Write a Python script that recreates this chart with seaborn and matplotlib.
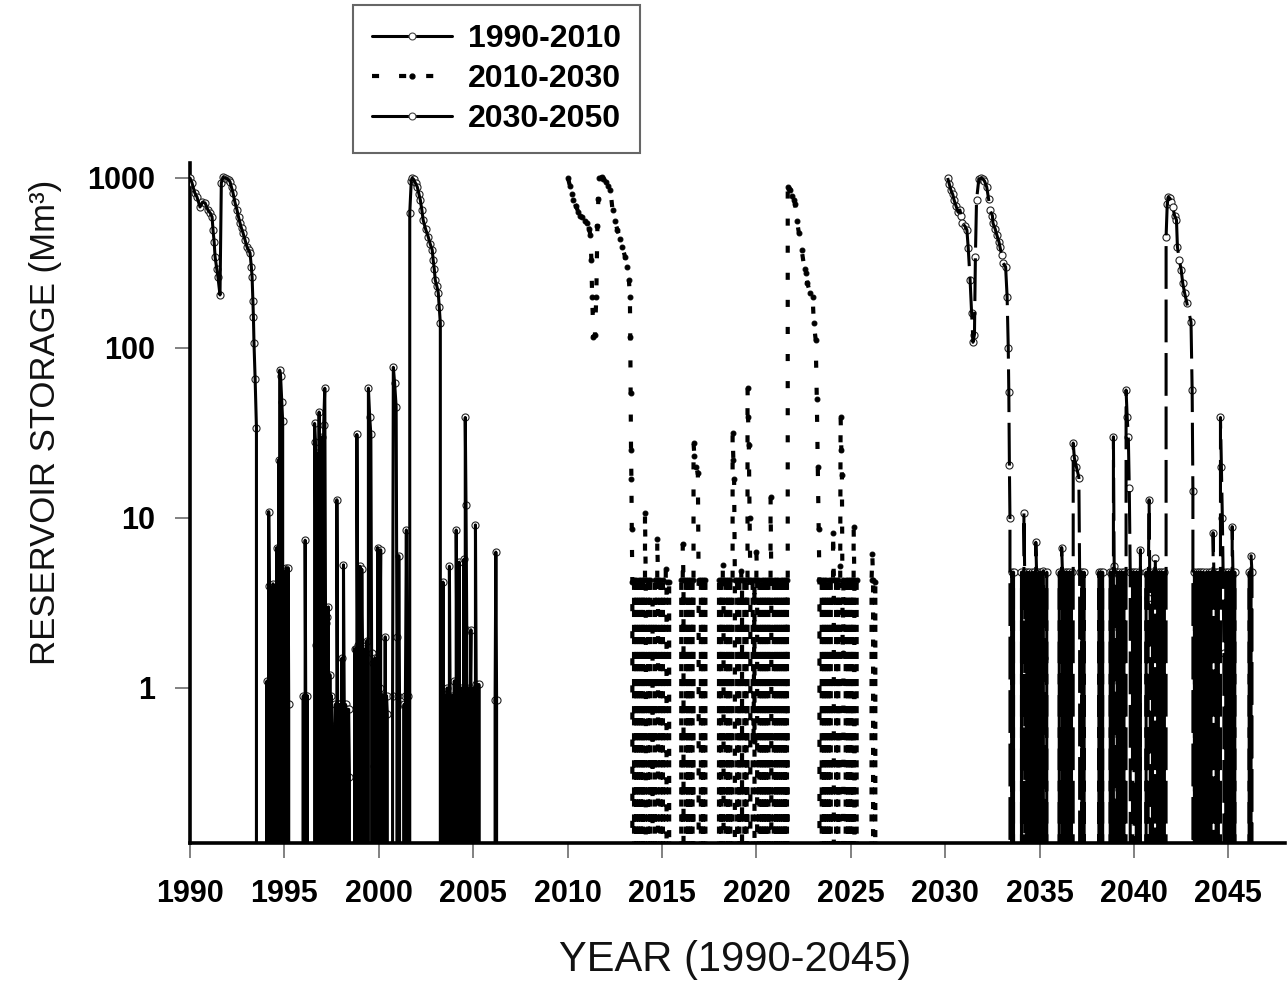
import pandas as pd
import matplotlib
matplotlib.use('Agg')
import matplotlib.pyplot as plt
from matplotlib.lines import Line2D
from matplotlib.ticker import NullLocator
import seaborn as sns

# reservoir storage (Mm3) as (year, storage); 0 = empty reservoir
s1_points = [
    # fill / drawdown 1990-1993
    (1990.00, 1000), (1990.10, 940), (1990.25, 820), (1990.37, 773), (1990.53, 675),
    (1990.66, 720), (1990.80, 713), (1990.95, 648), (1991.08, 620), (1991.17, 590),
    (1991.22, 494), (1991.28, 420), (1991.33, 343), (1991.42, 290), (1991.48, 262),
    (1991.59, 205), (1991.66, 935), (1991.75, 1010), (1991.85, 1000), (1991.95, 990),
    (1992.05, 975), (1992.12, 950), (1992.20, 880), (1992.28, 816), (1992.38, 720),
    (1992.49, 648), (1992.57, 590), (1992.65, 543), (1992.73, 505), (1992.81, 475),
    (1992.92, 430), (1993.02, 393), (1993.10, 378), (1993.18, 362), (1993.25, 300),
    (1993.29, 262), (1993.33, 190), (1993.36, 152), (1993.39, 107), (1993.45, 66),
    (1993.52, 34), (1993.56, 0),
    # low storage 1994-2001
    (1994.05, 0), (1994.08, 1.1), (1994.11, 0), (1994.17, 10.9), (1994.20, 4.0),
    (1994.23, 0), (1994.30, 3.9), (1994.33, 0), (1994.40, 4.1), (1994.43, 0.3),
    (1994.50, 3.8), (1994.53, 0), (1994.60, 6.7), (1994.63, 0), (1994.70, 22),
    (1994.72, 0), (1994.75, 74), (1994.80, 68), (1994.86, 48), (1994.91, 37),
    (1994.94, 0), (1995.00, 4.8), (1995.03, 0), (1995.10, 5.1), (1995.14, 0.8),
    (1995.20, 5.1), (1995.23, 0.8), (1995.27, 0),
    (1995.97, 0), (1996.00, 0.9), (1996.04, 0), (1996.10, 7.4), (1996.13, 0.9),
    (1996.17, 0), (1996.22, 0.9), (1996.26, 0),
    (1996.56, 0), (1996.60, 36), (1996.64, 28), (1996.67, 1.8), (1996.70, 0),
    (1996.74, 24), (1996.77, 2.0), (1996.80, 0), (1996.84, 42), (1996.88, 2.1),
    (1996.91, 0), (1996.95, 2.2), (1996.98, 30), (1997.01, 2.0), (1997.04, 0),
    (1997.08, 35), (1997.14, 58), (1997.18, 2.4), (1997.21, 0), (1997.25, 2.6),
    (1997.29, 0), (1997.33, 3.0), (1997.37, 0), (1997.41, 1.2), (1997.45, 0),
    (1997.49, 0.9), (1997.53, 0.6), (1997.57, 0),
    (1997.66, 0), (1997.70, 0.8), (1997.73, 0), (1997.78, 12.8), (1997.82, 0.8),
    (1997.85, 0), (1997.89, 0.8), (1997.93, 0), (1997.97, 0.8), (1998.01, 0),
    (1998.05, 1.5), (1998.09, 0), (1998.13, 5.3), (1998.17, 0.8), (1998.20, 0),
    (1998.24, 0.8), (1998.28, 0), (1998.32, 0.75), (1998.36, 0), (1998.40, 0.75),
    (1998.44, 0.3), (1998.47, 0),
    (1998.68, 0), (1998.72, 1.7), (1998.75, 0), (1998.79, 1.7), (1998.82, 0),
    (1998.84, 31), (1998.88, 1.8), (1998.91, 0), (1998.95, 1.8), (1999.00, 5.2),
    (1999.03, 0), (1999.07, 1.7), (1999.10, 5.0), (1999.14, 1.7), (1999.17, 0),
    (1999.21, 1.7), (1999.25, 0), (1999.29, 1.6), (1999.33, 0), (1999.37, 1.9),
    (1999.41, 0), (1999.45, 58), (1999.52, 39), (1999.58, 31), (1999.62, 1.6),
    (1999.65, 0), (1999.69, 1.4), (1999.73, 0), (1999.76, 0.35), (1999.80, 1.5),
    (1999.84, 0), (1999.88, 1.5), (1999.91, 0), (1999.94, 6.7), (1999.98, 0.9),
    (2000.01, 0), (2000.05, 1.0), (2000.10, 6.5), (2000.13, 0), (2000.17, 0.9),
    (2000.21, 0), (2000.25, 0.9), (2000.29, 0), (2000.34, 2.0), (2000.37, 0),
    (2000.41, 0.9), (2000.45, 0.7), (2000.48, 0),
    (2000.70, 0), (2000.73, 0.9), (2000.77, 77), (2000.84, 62), (2000.92, 45),
    (2000.96, 2.0), (2000.99, 0), (2001.03, 0.9), (2001.06, 6.0), (2001.10, 0.8),
    (2001.14, 0), (2001.30, 0), (2001.34, 0.8), (2001.37, 0), (2001.41, 0.9),
    (2001.46, 8.5), (2001.50, 0.9), (2001.53, 0), (2001.57, 0.9), (2001.62, 0),
    # fill / drawdown 2001-2003
    (2001.64, 622), (2001.72, 960), (2001.77, 1000), (2001.85, 980), (2001.95, 930),
    (2002.04, 885), (2002.12, 810), (2002.20, 742), (2002.28, 650), (2002.35, 566),
    (2002.48, 500), (2002.62, 450), (2002.72, 410), (2002.83, 377), (2002.88, 330),
    (2002.94, 290), (2002.99, 251), (2003.08, 230), (2003.15, 211), (2003.20, 174),
    (2003.26, 140), (2003.34, 0),
    # low storage 2003-2006
    (2003.40, 4.2), (2003.44, 0), (2003.52, 0.9), (2003.56, 0), (2003.62, 1.0),
    (2003.66, 0), (2003.74, 5.2), (2003.78, 0.8), (2003.82, 0), (2003.90, 0.9),
    (2003.94, 0), (2004.00, 1.1), (2004.04, 0), (2004.10, 8.5), (2004.14, 1.0),
    (2004.18, 0), (2004.26, 5.5), (2004.30, 0), (2004.38, 1.0), (2004.42, 0),
    (2004.50, 5.7), (2004.54, 0), (2004.58, 39), (2004.62, 12), (2004.66, 2.2),
    (2004.70, 0), (2004.78, 1.0), (2004.82, 0.45), (2004.88, 2.2), (2004.92, 0),
    (2005.00, 1.0), (2005.04, 0), (2005.12, 9.1), (2005.16, 1.05), (2005.22, 0),
    (2005.30, 1.05), (2005.36, 0),
    (2006.12, 0), (2006.16, 0.85), (2006.20, 6.3), (2006.24, 0.85), (2006.30, 0),
    (2010.00, 0),
]

s2_points = [
    # fill / drawdown 2010-2013
    (2010.02, 1000), (2010.12, 900), (2010.22, 800), (2010.31, 742), (2010.45, 680),
    (2010.57, 631), (2010.68, 600), (2010.78, 590), (2010.92, 560), (2011.05, 543),
    (2011.14, 500), (2011.21, 460), (2011.26, 330), (2011.30, 200), (2011.37, 116),
    (2011.45, 120), (2011.52, 200), (2011.58, 520), (2011.63, 750), (2011.69, 1000),
    (2011.80, 1010), (2011.90, 990), (2012.02, 950), (2012.15, 900), (2012.27, 850),
    (2012.38, 648), (2012.50, 560), (2012.64, 494), (2012.78, 440), (2012.90, 393),
    (2013.04, 345), (2013.17, 300), (2013.25, 250), (2013.30, 200), (2013.32, 116),
    (2013.34, 54), (2013.36, 25), (2013.38, 17), (2013.40, 8.6), (2013.43, 4.2),
    (2013.46, 0),
    # low storage 2013-2021
    (2013.52, 4.3), (2013.56, 0), (2013.64, 4.3), (2013.68, 0), (2013.76, 4.3),
    (2013.80, 0), (2013.88, 4.3), (2013.92, 0), (2014.00, 4.3), (2014.04, 0),
    (2014.10, 10.7), (2014.14, 4.3), (2014.18, 0), (2014.26, 4.3), (2014.30, 0),
    (2014.38, 4.3), (2014.42, 0), (2014.50, 3.2), (2014.54, 0), (2014.62, 4.3),
    (2014.66, 0), (2014.75, 7.5), (2014.79, 4.3), (2014.83, 0), (2014.92, 4.3),
    (2014.96, 0), (2015.05, 4.3), (2015.09, 0), (2015.20, 5.0), (2015.24, 4.2),
    (2015.30, 0), (2015.38, 4.2), (2015.43, 0),
    (2015.98, 0), (2016.02, 4.3), (2016.06, 0), (2016.10, 7.0), (2016.14, 4.3),
    (2016.18, 0), (2016.26, 4.3), (2016.30, 0), (2016.38, 4.3), (2016.42, 0),
    (2016.50, 4.3), (2016.54, 0), (2016.62, 4.3), (2016.65, 0), (2016.67, 27.6),
    (2016.72, 23), (2016.80, 20), (2016.90, 18.3), (2016.94, 4.3), (2016.98, 0),
    (2017.06, 4.3), (2017.10, 0), (2017.18, 4.3), (2017.22, 0), (2017.30, 4.3),
    (2017.36, 0),
    (2017.98, 0), (2018.02, 4.3), (2018.06, 0), (2018.14, 4.3), (2018.18, 0),
    (2018.22, 5.3), (2018.26, 4.3), (2018.30, 0), (2018.38, 4.3), (2018.42, 0),
    (2018.50, 4.3), (2018.54, 0), (2018.62, 4.3), (2018.66, 0), (2018.74, 31.6),
    (2018.78, 22), (2018.82, 17), (2018.86, 4.3), (2018.90, 0), (2018.98, 4.3),
    (2019.02, 0), (2019.10, 4.3), (2019.14, 0), (2019.20, 4.9), (2019.24, 4.3),
    (2019.28, 0), (2019.36, 4.3), (2019.40, 0), (2019.48, 4.3), (2019.51, 0),
    (2019.53, 58), (2019.56, 39), (2019.60, 27), (2019.64, 10), (2019.68, 4.3),
    (2019.72, 0), (2019.80, 4.3), (2019.85, 0.49), (2019.90, 4.3), (2019.94, 0),
    (2020.00, 6.3), (2020.04, 4.3), (2020.08, 0), (2020.16, 4.3), (2020.20, 0),
    (2020.28, 4.3), (2020.32, 0), (2020.40, 4.3), (2020.44, 0), (2020.52, 4.3),
    (2020.56, 0), (2020.64, 4.3), (2020.68, 0), (2020.75, 13.3), (2020.79, 4.3),
    (2020.83, 0), (2020.92, 4.3), (2020.96, 0), (2021.04, 4.3), (2021.08, 0),
    (2021.16, 4.3), (2021.20, 0), (2021.28, 4.3), (2021.32, 0), (2021.40, 4.3),
    (2021.44, 0), (2021.52, 4.3), (2021.56, 0), (2021.62, 4.3), (2021.64, 0),
    # fill / drawdown 2021-2023
    (2021.66, 885), (2021.72, 860), (2021.80, 850), (2021.90, 780), (2022.00, 742),
    (2022.05, 700), (2022.15, 560), (2022.25, 475), (2022.40, 377), (2022.55, 290),
    (2022.62, 276), (2022.70, 241), (2022.85, 210), (2022.98, 200), (2023.04, 140),
    (2023.14, 112), (2023.20, 50), (2023.25, 20), (2023.30, 8.6), (2023.34, 4.3),
    (2023.38, 0),
    # low storage 2023-2026
    (2023.42, 0), (2023.46, 4.3), (2023.50, 0), (2023.58, 4.3), (2023.62, 0),
    (2023.70, 4.3), (2023.74, 0), (2023.82, 4.3), (2023.86, 0), (2023.94, 4.3),
    (2023.98, 0), (2024.06, 8.2), (2024.10, 4.3), (2024.14, 0), (2024.22, 4.3),
    (2024.26, 0), (2024.34, 4.3), (2024.38, 0), (2024.44, 5.2), (2024.46, 39.4),
    (2024.50, 25), (2024.53, 18), (2024.57, 1.6), (2024.61, 4.3), (2024.65, 0),
    (2024.73, 4.3), (2024.77, 0), (2024.85, 4.3), (2024.89, 0), (2024.97, 4.3),
    (2025.01, 0), (2025.08, 4.3), (2025.12, 0), (2025.15, 8.9), (2025.19, 4.3),
    (2025.23, 0), (2025.31, 4.3), (2025.36, 0),
    (2026.06, 0), (2026.10, 4.3), (2026.14, 6.1), (2026.18, 4.3), (2026.24, 0),
    (2026.30, 4.2), (2026.36, 0),
    (2030.00, 0),
]

s3_points = [
    # fill / drawdown 2030-2033
    (2030.13, 1000), (2030.22, 920), (2030.30, 850), (2030.40, 800), (2030.47, 742),
    (2030.58, 680), (2030.68, 631), (2030.78, 648), (2030.85, 600), (2030.90, 543),
    (2031.05, 520), (2031.15, 494), (2031.22, 387), (2031.32, 250), (2031.40, 160),
    (2031.47, 108), (2031.55, 120), (2031.60, 343), (2031.66, 742), (2031.78, 980),
    (2031.90, 1000), (2031.98, 990), (2032.08, 960), (2032.20, 885), (2032.30, 750),
    (2032.37, 648), (2032.50, 600), (2032.53, 543), (2032.65, 500), (2032.74, 460),
    (2032.85, 420), (2032.90, 393), (2033.00, 350), (2033.06, 316), (2033.20, 300),
    (2033.28, 200), (2033.34, 100), (2033.37, 55), (2033.40, 20.5), (2033.43, 10),
    (2033.47, 0),
    # low storage 2033-2041
    (2033.52, 4.8), (2033.56, 0), (2033.62, 4.8), (2033.66, 0),
    (2034.00, 0), (2034.04, 4.8), (2034.08, 0), (2034.17, 10.7), (2034.21, 4.8),
    (2034.25, 0), (2034.33, 4.8), (2034.37, 0), (2034.45, 4.8), (2034.49, 3.2),
    (2034.53, 0), (2034.61, 4.8), (2034.65, 0), (2034.73, 4.8), (2034.77, 0),
    (2034.80, 7.2), (2034.84, 4.8), (2034.88, 0), (2034.96, 4.8), (2035.00, 0),
    (2035.08, 4.8), (2035.12, 0), (2035.20, 4.9), (2035.24, 1.5), (2035.30, 0),
    (2035.38, 4.8), (2035.44, 0),
    (2036.00, 0), (2036.04, 4.8), (2036.08, 0), (2036.17, 6.7), (2036.21, 4.8),
    (2036.25, 0), (2036.33, 4.8), (2036.37, 0), (2036.45, 4.8), (2036.49, 0),
    (2036.57, 4.8), (2036.61, 0), (2036.69, 4.8), (2036.73, 0), (2036.78, 27.6),
    (2036.84, 22.6), (2036.95, 20), (2037.08, 17.3), (2037.12, 4.8), (2037.16, 0),
    (2037.24, 4.8), (2037.28, 0), (2037.36, 4.8), (2037.44, 0),
    (2038.10, 0), (2038.14, 4.8), (2038.18, 0), (2038.26, 4.8), (2038.30, 0),
    (2038.34, 4.8), (2038.40, 0),
    (2038.70, 0), (2038.74, 4.8), (2038.78, 0), (2038.86, 4.8), (2038.89, 0),
    (2038.91, 30), (2038.95, 5.2), (2038.99, 4.8), (2039.03, 0), (2039.11, 4.8),
    (2039.15, 0), (2039.23, 4.8), (2039.27, 0), (2039.35, 4.8), (2039.39, 0),
    (2039.47, 4.8), (2039.51, 0), (2039.58, 56.6), (2039.64, 39), (2039.70, 30),
    (2039.75, 15), (2039.80, 4.8), (2039.84, 0), (2039.92, 4.8), (2039.96, 0.48),
    (2040.00, 4.8), (2040.04, 0), (2040.12, 4.8), (2040.16, 0), (2040.24, 4.8),
    (2040.28, 0), (2040.34, 6.5), (2040.38, 0),
    (2040.60, 0), (2040.64, 4.8), (2040.68, 0), (2040.75, 3.4), (2040.80, 12.8),
    (2040.86, 2.0), (2040.90, 0), (2040.98, 4.8), (2041.02, 0), (2041.10, 4.8),
    (2041.13, 5.8), (2041.17, 0), (2041.25, 4.8), (2041.29, 0), (2041.37, 4.8),
    (2041.41, 0), (2041.49, 4.8), (2041.53, 0), (2041.61, 4.8), (2041.65, 0),
    # fill / drawdown 2041-2043
    (2041.70, 450), (2041.76, 700), (2041.82, 773), (2041.90, 760), (2041.98, 720),
    (2042.05, 675), (2042.15, 600), (2042.25, 566), (2042.30, 393), (2042.40, 330),
    (2042.50, 288), (2042.58, 241), (2042.68, 211), (2042.80, 184), (2043.02, 142),
    (2043.08, 56.6), (2043.12, 14.5), (2043.16, 0),
    # low storage 2043-2046
    (2043.20, 4.8), (2043.24, 0), (2043.32, 4.8), (2043.36, 0), (2043.44, 4.8),
    (2043.48, 0), (2043.56, 4.8), (2043.60, 0), (2043.68, 4.8), (2043.72, 0),
    (2043.80, 4.2), (2043.84, 4.8), (2043.88, 0), (2043.96, 4.8), (2044.00, 0),
    (2044.08, 4.8), (2044.12, 0), (2044.19, 8.2), (2044.23, 4.8), (2044.27, 0),
    (2044.35, 4.8), (2044.39, 0), (2044.47, 4.8), (2044.51, 0), (2044.58, 39),
    (2044.63, 20), (2044.68, 10), (2044.72, 4.8), (2044.76, 1.6), (2044.80, 0),
    (2044.88, 4.8), (2044.92, 0), (2045.00, 4.8), (2045.04, 0), (2045.12, 4.8),
    (2045.16, 0), (2045.20, 8.9), (2045.24, 4.8), (2045.28, 0), (2045.34, 4.8),
    (2045.40, 0),
    (2046.05, 0), (2046.10, 4.8), (2046.15, 0), (2046.20, 6.0), (2046.25, 4.8),
    (2046.32, 0),
    (2048.00, 0),
]

series_labels = ['1990-2010', '2010-2030', '2030-2050']
year_ticks = [1990, 1995, 2000, 2005, 2010, 2015, 2020, 2025, 2030, 2035, 2040, 2045]
storage_ticks = [1, 10, 100, 1000]

sns.set_style('ticks')
plt.rcParams['font.family'] = ['Liberation Sans', 'DejaVu Sans']

df1 = pd.DataFrame(s1_points, columns=['year', 'storage'])
df2 = pd.DataFrame(s2_points, columns=['year', 'storage'])
df3 = pd.DataFrame(s3_points, columns=['year', 'storage'])

fig = plt.figure(figsize=(12.88, 9.83), dpi=100)
ax = fig.add_axes([0.1475, 0.1424, 0.8502, 0.6918])

dash2 = (0, (1.7, 4.8))
dash3 = (0, (14, 3.5))

# 1990-2010: solid line, open circles (circles sit under the line)
sns.scatterplot(data=df1, x='year', y='storage', marker='o', s=26, color='white',
                edgecolor='#222222', linewidth=0.8, zorder=2.6, ax=ax, legend=False)
sns.lineplot(data=df1, x='year', y='storage', estimator=None, sort=False,
             color='black', linewidth=2.2, zorder=3, ax=ax, legend=False)

# 2010-2030: short dashes with small filled dots
sns.lineplot(data=df2, x='year', y='storage', estimator=None, sort=False,
             color='black', linewidth=3, linestyle=dash2, marker='o', markersize=3.5,
             markerfacecolor='black', markeredgecolor='black', zorder=3, ax=ax, legend=False)

# 2030-2050: broken solid line, open circles
sns.scatterplot(data=df3, x='year', y='storage', marker='o', s=26, color='white',
                edgecolor='#222222', linewidth=0.8, zorder=2.6, ax=ax, legend=False)
sns.lineplot(data=df3, x='year', y='storage', estimator=None, sort=False,
             color='black', linewidth=2.2, linestyle=dash3, zorder=3, ax=ax, legend=False)

ax.set_yscale('log')
ax.set_xlim(1990, 2048)
ax.set_ylim(0.1225, 1225)
ax.set_xticks(year_ticks)
ax.set_xticklabels([str(y) for y in year_ticks])
ax.set_yticks(storage_ticks)
ax.set_yticklabels([str(v) for v in storage_ticks])
ax.yaxis.set_minor_locator(NullLocator())
ax.xaxis.set_minor_locator(NullLocator())

ax.tick_params(axis='both', which='major', direction='out', length=11, width=1.3,
               color='#777777', labelsize=22, labelcolor='black')
ax.tick_params(axis='y', pad=14)
ax.tick_params(axis='x', pad=15)
for lbl in ax.get_xticklabels() + ax.get_yticklabels():
    lbl.set_fontweight('bold')

for side in ['top', 'right']:
    ax.spines[side].set_visible(False)
for side in ['left', 'bottom']:
    ax.spines[side].set_linewidth(2.6)
    ax.spines[side].set_color('black')

ax.set_xlabel('YEAR (1990-2045)', fontsize=30, color='#111111')
ax.set_ylabel('RESERVOIR STORAGE (Mm³)', fontsize=25, color='#111111')
ax.xaxis.set_label_coords(0.498, -0.142)
ax.yaxis.set_label_coords(-0.117, 0.619)

handles = [
    Line2D([], [], color='black', lw=2.2, marker='o', ms=5, mfc='white', mec='#444444', mew=0.8),
    Line2D([], [], color='black', lw=3, ls=dash2, marker='o', ms=3.5, mfc='black', mec='black'),
    Line2D([], [], color='black', lw=2.2, marker='o', ms=5, mfc='white', mec='#444444', mew=0.8),
]
leg = ax.legend(handles, series_labels, loc='upper left',
                bbox_to_anchor=(353 / 1288, 1 - 5 / 983), bbox_transform=fig.transFigure,
                frameon=True, fancybox=False, framealpha=1, edgecolor='#666666',
                prop={'family': 'Liberation Sans', 'weight': 'bold', 'size': 23},
                handlelength=2.5, handletextpad=0.5, borderpad=0.6, labelspacing=0.31,
                borderaxespad=0)
leg.get_frame().set_linewidth(1.5)
for txt in leg.get_texts():
    txt.set_color('black')

fig.savefig('out.png', dpi=100)
